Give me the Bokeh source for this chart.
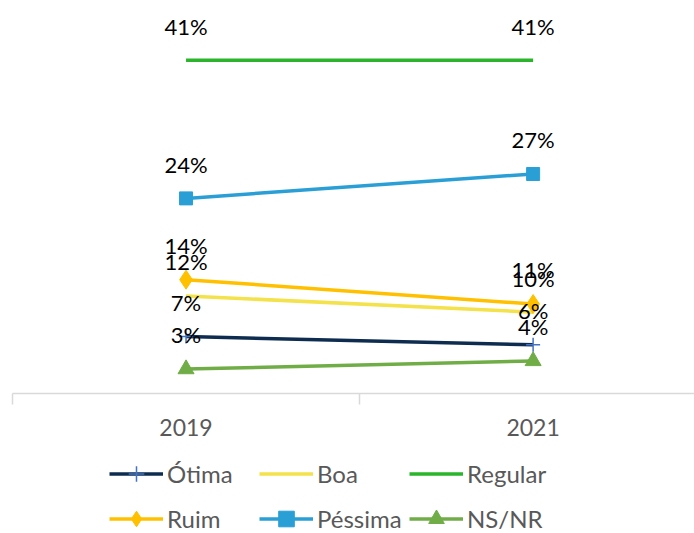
from bokeh.plotting import figure
from bokeh.layouts import column
from bokeh.models import Range1d, FixedTicker, Legend, LegendItem, ColumnDataSource
from bokeh.core.properties import value
from bokeh.embed import file_html
from bokeh.resources import INLINE

years = ["2019", "2021"]
x_pos = [0, 1]
series_names = ["Ótima", "Boa", "Regular", "Ruim", "Péssima", "NS/NR"]
otima = [7, 6]
boa = [12, 10]
regular = [41, 41]
ruim = [14, 11]
pessima = [24, 27]
nsnr = [3, 4]

FONT = "Lato"
p = figure(width=694, height=445, output_backend="svg", toolbar_location=None,
           x_range=Range1d(-0.5, 1.465), y_range=Range1d(0, 48.34),
           min_border_left=12, min_border_right=0, min_border_top=0, min_border_bottom=52,
           y_axis_location=None)
p.outline_line_color = None
p.xgrid.visible = False
p.ygrid.visible = False

ax = p.xaxis[0]
ax.ticker = FixedTicker(ticks=x_pos, minor_ticks=[-0.5, 0.5, 1.5])
ax.major_label_overrides = {0: years[0], 1: years[1]}
ax.major_tick_line_color = None
ax.major_tick_out = 0
ax.major_tick_in = 0
ax.minor_tick_in = 0
ax.minor_tick_out = 11
ax.minor_tick_line_color = "#D9D9D9"
ax.minor_tick_line_width = 1.5
ax.axis_line_color = "#D9D9D9"
ax.axis_line_width = 1.5
ax.major_label_text_font = FONT
ax.major_label_text_font_size = "23px"
ax.major_label_text_color = "#595959"
ax.major_label_standoff = 14

# legend-only figure below the chart (its ranges keep the series out of view)
q = figure(width=694, height=88, output_backend="svg", toolbar_location=None,
           x_range=Range1d(10, 11), y_range=Range1d(0, 1),
           min_border_left=0, min_border_right=0, min_border_top=0, min_border_bottom=0,
           x_axis_location=None, y_axis_location=None)
q.outline_line_color = None
q.xgrid.visible = False
q.ygrid.visible = False

LW = 3.5
items = []

def add(name, vals, color, marker=None, mcolor=None, msize=13):
    src = ColumnDataSource(dict(x=x_pos, y=vals, lab=[f"{v}%" for v in vals],
                                ly=[v + 4.2 for v in vals]))
    rs = []
    for fig in (p, q):
        r = [fig.line("x", "y", source=src, line_color=color, line_width=LW)]
        if marker is not None:
            if marker == "cross":
                r.append(fig.scatter("x", "y", source=src, marker="cross", size=msize,
                                     line_color=mcolor, line_width=1.5))
            else:
                r.append(fig.scatter("x", "y", source=src, marker=marker, size=msize,
                                     fill_color=mcolor, line_color=mcolor))
        rs.append(r)
    items.append(LegendItem(label=name, renderers=rs[1]))
    return src

srcs = []
srcs.append(add(series_names[0], otima, "#0E2C4F", "cross", "#4472C4", 14))
srcs.append(add(series_names[1], boa, "#F3E24B"))
srcs.append(add(series_names[2], regular, "#2AB52A"))
srcs.append(add(series_names[3], ruim, "#FFC000", "diamond", "#FFC000", 19))
srcs.append(add(series_names[4], pessima, "#2A9FD6", "square", "#2A9FD6", 13))
srcs.append(add(series_names[5], nsnr, "#70AD47", "triangle", "#70AD47", 16))

for s in srcs:
    p.text("x", "ly", text="lab", source=s, text_align="center", text_baseline="middle",
           text_font=value(FONT), text_font_size="22px", text_color="#000000")

legend = Legend(items=items, ncols=3, location=(97, -5), orientation="horizontal")
legend.label_text_font = FONT
legend.label_text_font_size = "24px"
legend.label_text_color = "#595959"
legend.glyph_width = 54
legend.glyph_height = 39
legend.label_width = 86
legend.label_standoff = 4
legend.spacing = 6
legend.padding = 0
legend.margin = 0
legend.border_line_color = None
legend.background_fill_alpha = 0
q.add_layout(legend)

open("out.html", "w").write(file_html(column(p, q, spacing=0), INLINE))
